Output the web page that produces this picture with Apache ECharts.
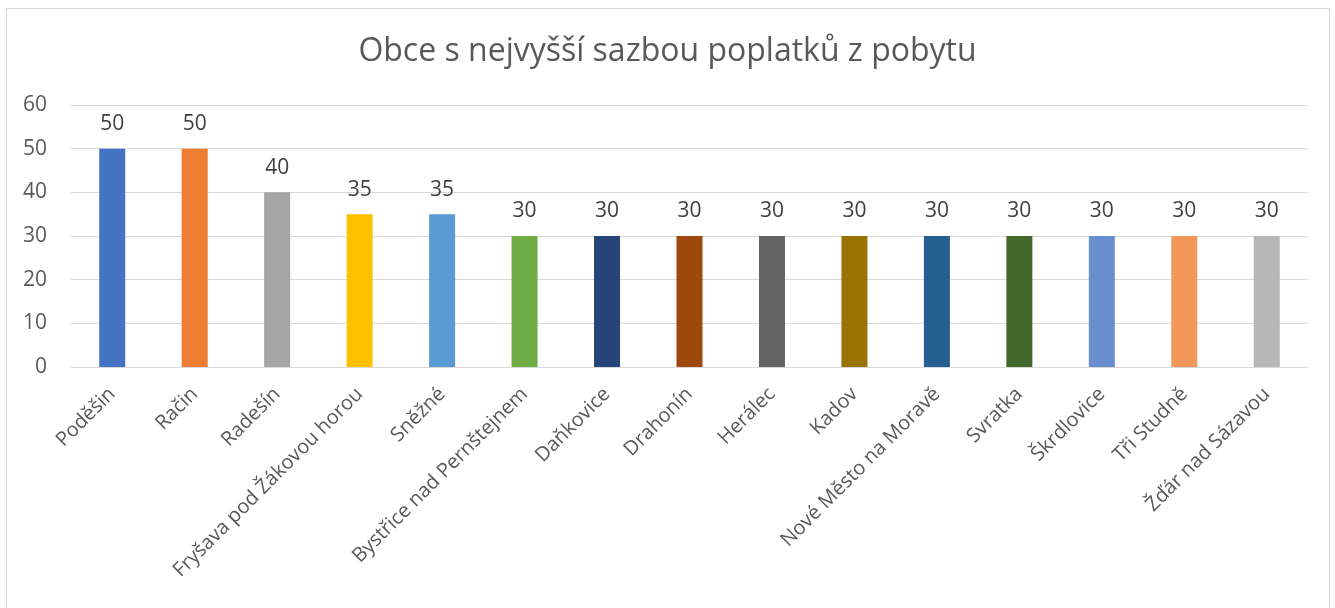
<!DOCTYPE html>
<html>
<head>
<meta charset="utf-8">
<script src="https://cdn.jsdelivr.net/npm/echarts@6/dist/echarts.min.js"></script>
<style>
  html, body { margin: 0; padding: 0; background: #fff; }
  #frame {
    position: absolute; left: 6px; top: 8px; width: 1324px; height: 620px;
    border: 1px solid #d9d9d9; box-sizing: border-box;
  }
  #chart { position: absolute; left: 0; top: 0; width: 1335px; height: 608px; }
</style>
</head>
<body>
<div id="frame"></div>
<div id="chart"></div>
<script>
const categories = ['Poděšin', 'Račin', 'Radešín', 'Fryšava pod Žákovou horou', 'Sněžné',
  'Bystřice nad Pernštejnem', 'Daňkovice', 'Drahonín', 'Herálec', 'Kadov',
  'Nové Město na Moravě', 'Svratka', 'Škrdlovice', 'Tři Studně', 'Žďár nad Sázavou'];
const values = [50, 50, 40, 35, 35, 30, 30, 30, 30, 30, 30, 30, 30, 30, 30];
const barColors = ['#4472C4', '#ED7D31', '#A5A5A5', '#FFC000', '#5B9BD5', '#70AD47',
  '#264478', '#9E480E', '#636363', '#997300', '#255E91', '#43682B', '#698ED0',
  '#F1975A', '#B7B7B7'];

const font = "'Open Sans', 'Noto Sans', sans-serif";
const myChart = echarts.init(document.getElementById('chart'));

const option = {
  backgroundColor: 'transparent',
  animation: false,
  title: {
    text: 'Obce s nejvyšší sazbou poplatků z pobytu',
    left: 'center',
    top: 31,
    textStyle: { color: '#595959', fontSize: 32, fontWeight: 'normal', fontFamily: font }
  },
  grid: { left: 71, right: 27, top: 105, bottom: 241 },
  xAxis: {
    type: 'category',
    data: categories,
    axisLine: { lineStyle: { color: '#d9d9d9', width: 1 } },
    axisTick: { show: false },
    axisLabel: {
      interval: 0,
      rotate: 45,
      margin: 24,
      color: '#595959',
      fontSize: 20,
      fontFamily: font
    }
  },
  yAxis: {
    type: 'value',
    min: 0,
    max: 60,
    interval: 10,
    axisLine: { show: false },
    axisTick: { show: false },
    splitLine: { lineStyle: { color: '#d9d9d9', width: 1 } },
    axisLabel: { color: '#595959', fontSize: 21, margin: 24, fontFamily: font }
  },
  series: [{
    type: 'bar',
    barWidth: 26,
    data: values.map((v, i) => ({ value: v, itemStyle: { color: barColors[i] } })),
    label: {
      show: true,
      position: 'top',
      distance: 14,
      color: '#404040',
      fontSize: 21,
      fontFamily: font
    }
  }]
};
myChart.setOption(option);
</script>
</body>
</html>
